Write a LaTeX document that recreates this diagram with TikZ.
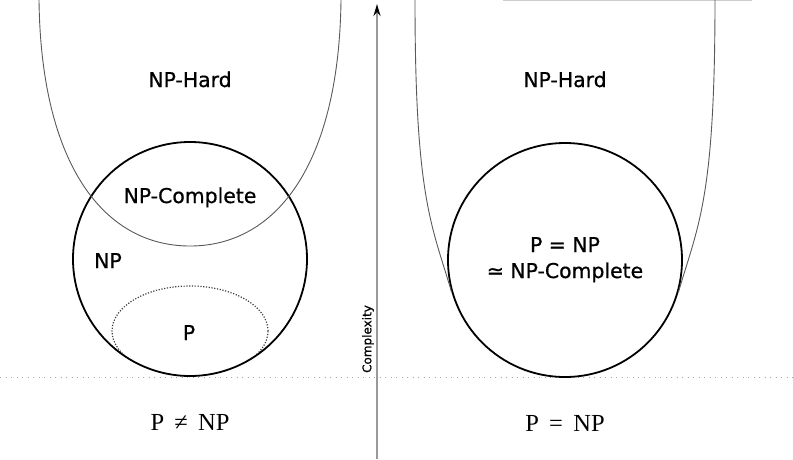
\documentclass[tikz,border=0pt]{standalone}
\usepackage{fontspec}
\usepackage{tikz}
\usetikzlibrary{arrows.meta}
\newfontfamily\dejavu[FakeBold=0.7]{DejaVu Sans}
\newfontfamily\libserif{Liberation Serif}

\begin{document}
\begin{tikzpicture}[x=1pt, y=-1pt]
    \tikzstyle{classset} = [circle, draw=black, line width=1.8pt, minimum size=234pt, inner sep=0pt]
    \tikzstyle{hull} = [draw=black!65, line width=0.9pt]
    \tikzstyle{lbl} = [anchor=base, inner sep=0pt, font=\dejavu\fontsize{20.4}{24}\selectfont]
    \tikzstyle{caption} = [anchor=base, inner sep=0pt, font=\libserif\fontsize{24.5}{29}\selectfont]
    \tikzstyle{complexaxis} = [draw=black!40, line width=2.2pt, -{Stealth[black, length=12pt, width=7pt]}]
    \tikzstyle{groundline} = [draw=black!35, line width=1pt, dash pattern=on 1pt off 4.5pt]

    \useasboundingbox (0,0) rectangle (793,459);

    \draw [draw=black!20, line width=1.5pt] (503,0.7) -- (752,0.7);

    \coordinate (gl) at (0,377);
    \coordinate (gr) at (793,377);
    \draw [groundline] (gl) -- (gr);

    % left half: P != NP
    \node (npL) [classset] at (190,259) {};
    \begin{scope}
        \clip (190,259) circle [radius=116pt];
        \draw [draw=black!75, line width=1.2pt, dash pattern=on 1.2pt off 1.6pt] (190,331) ellipse [x radius=78pt, y radius=45pt];
    \end{scope}
    \draw [hull] (39,0) .. controls (41,165) and (104,246) .. (190,246)
                        .. controls (276,246) and (339,165) .. (341,0);

    \node (hardL) [lbl] at (190,87) {NP-Hard};
    \node (completeL) [lbl] at (190,203) {NP-Complete};
    \node (npLbl) [lbl] at (108,268) {NP};
    \node (pLbl) [lbl] at (189,340) {P};
    \node (neq) [caption] at (190,430) {P\hspace{0.42em}≠\hspace{0.42em}NP};

    % axis
    \coordinate (axbot) at (377,459);
    \coordinate (axtop) at (377,4);
    \draw [complexaxis] (axbot) -- (axtop);
    \node (cplx) [font=\dejavu\fontsize{12}{14}\selectfont, rotate=90] at (368,339) {Complexity};

    % right half: P = NP
    \node (npR) [classset] at (565,260) {};
    \draw [hull] (npR.196) .. controls (432,225) and (415,200) .. (415,0);
    \draw [hull] (npR.-16) .. controls (698,225) and (715,200) .. (715,0);

    \node (hardR) [lbl] at (565,87) {NP-Hard};
    \node (eqR) [lbl] at (565,252) {P = NP};
    \node (simR) [lbl] at (565,278) {≃ NP-Complete};
    \node (eq) [caption] at (565,431) {P\hspace{0.42em}=\hspace{0.42em}NP};
\end{tikzpicture}
\end{document}
